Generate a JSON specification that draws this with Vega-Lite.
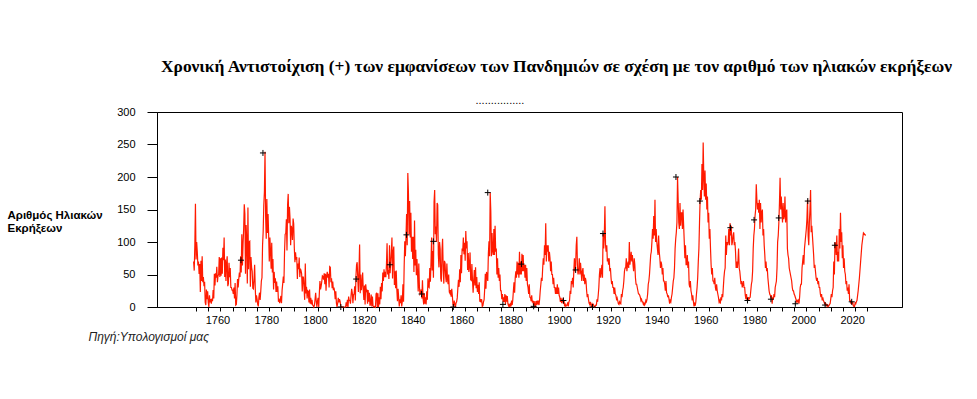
{
"$schema":"https://vega.github.io/schema/vega-lite/v6.json",
"width":745,"height":195,
"autosize":{"type":"none"},
"padding":{"left":157,"top":112,"right":75,"bottom":92},
"background":"white",
"config":{"view":{"stroke":"black","strokeWidth":1},"font":"Liberation Sans"},
"title":{"text":"Χρονική Αντιστοίχιση  (+) των εμφανίσεων των Πανδημιών σε σχέση με τον αριθμό των ηλιακών εκρήξεων","font":"Liberation Serif","fontSize":17.4,"fontWeight":"bold","color":"black","anchor":"middle","dx":27,"baseline":"alphabetic","offset":6},
"datasets":{
"sun":[
{"t":1749,"v":70},{"t":1749.25,"v":56},{"t":1749.5,"v":95},{"t":1749.75,"v":159},
{"t":1750,"v":73},{"t":1750.25,"v":100},{"t":1750.5,"v":85},{"t":1750.75,"v":64},
{"t":1751,"v":70},{"t":1751.25,"v":51},{"t":1751.5,"v":66},{"t":1751.75,"v":23},
{"t":1752,"v":71},{"t":1752.25,"v":40},{"t":1752.5,"v":78},{"t":1752.75,"v":38},
{"t":1753,"v":46},{"t":1753.25,"v":32},{"t":1753.5,"v":39},{"t":1753.75,"v":7},
{"t":1754,"v":3},{"t":1754.25,"v":27},{"t":1754.5,"v":12},{"t":1754.75,"v":24},
{"t":1755,"v":7},{"t":1755.25,"v":0},{"t":1755.5,"v":18},{"t":1755.75,"v":7},
{"t":1756,"v":12},{"t":1756.25,"v":5},{"t":1756.5,"v":13},{"t":1756.75,"v":9},
{"t":1757,"v":26},{"t":1757.25,"v":13},{"t":1757.5,"v":51},{"t":1757.75,"v":33},
{"t":1758,"v":52},{"t":1758.25,"v":45},{"t":1758.5,"v":62},{"t":1758.75,"v":38},
{"t":1759,"v":48},{"t":1759.25,"v":50},{"t":1759.5,"v":77},{"t":1759.75,"v":46},
{"t":1760,"v":75},{"t":1760.25,"v":48},{"t":1760.5,"v":76},{"t":1760.75,"v":51},
{"t":1761,"v":91},{"t":1761.25,"v":72},{"t":1761.5,"v":107},{"t":1761.75,"v":46},
{"t":1762,"v":73},{"t":1762.25,"v":40},{"t":1762.5,"v":68},{"t":1762.75,"v":78},
{"t":1763,"v":32},{"t":1763.25,"v":36},{"t":1763.5,"v":68},{"t":1763.75,"v":46},
{"t":1764,"v":60},{"t":1764.25,"v":30},{"t":1764.5,"v":30},{"t":1764.75,"v":26},
{"t":1765,"v":26},{"t":1765.25,"v":20},{"t":1765.5,"v":30},{"t":1765.75,"v":13},
{"t":1766,"v":37},{"t":1766.25,"v":3},{"t":1766.5,"v":4},{"t":1766.75,"v":19},
{"t":1767,"v":43},{"t":1767.25,"v":30},{"t":1767.5,"v":43},{"t":1767.75,"v":53},
{"t":1768,"v":46},{"t":1768.25,"v":78},{"t":1768.5,"v":53},{"t":1768.75,"v":112},
{"t":1769,"v":64},{"t":1769.25,"v":97},{"t":1769.5,"v":120},{"t":1769.75,"v":158},
{"t":1770,"v":143},{"t":1770.25,"v":51},{"t":1770.5,"v":126},{"t":1770.75,"v":103},
{"t":1771,"v":36},{"t":1771.25,"v":153},{"t":1771.5,"v":58},{"t":1771.75,"v":100},
{"t":1772,"v":101},{"t":1772.25,"v":31},{"t":1772.5,"v":77},{"t":1772.75,"v":61},
{"t":1773,"v":55},{"t":1773.25,"v":29},{"t":1773.5,"v":28},{"t":1773.75,"v":43},
{"t":1774,"v":65},{"t":1774.25,"v":29},{"t":1774.5,"v":7},{"t":1774.75,"v":18},
{"t":1775,"v":12},{"t":1775.25,"v":4},{"t":1775.5,"v":1},{"t":1775.75,"v":15},
{"t":1776,"v":22},{"t":1776.25,"v":11},{"t":1776.5,"v":24},{"t":1776.75,"v":40},
{"t":1777,"v":45},{"t":1777.25,"v":96},{"t":1777.5,"v":116},{"t":1777.75,"v":157},
{"t":1778,"v":177},{"t":1778.25,"v":239},{"t":1778.5,"v":140},{"t":1778.75,"v":105},
{"t":1779,"v":166},{"t":1779.25,"v":114},{"t":1779.5,"v":143},{"t":1779.75,"v":110},
{"t":1780,"v":70},{"t":1780.25,"v":107},{"t":1780.5,"v":86},{"t":1780.75,"v":59},
{"t":1781,"v":99},{"t":1781.25,"v":53},{"t":1781.5,"v":74},{"t":1781.75,"v":27},
{"t":1782,"v":54},{"t":1782.25,"v":37},{"t":1782.5,"v":44},{"t":1782.75,"v":23},
{"t":1783,"v":39},{"t":1783.25,"v":23},{"t":1783.5,"v":32},{"t":1783.75,"v":8},
{"t":1784,"v":13},{"t":1784.25,"v":6},{"t":1784.5,"v":10},{"t":1784.75,"v":17},
{"t":1785,"v":6},{"t":1785.25,"v":26},{"t":1785.5,"v":36},{"t":1785.75,"v":47},
{"t":1786,"v":37},{"t":1786.25,"v":85},{"t":1786.5,"v":112},{"t":1786.75,"v":113},
{"t":1787,"v":135},{"t":1787.25,"v":87},{"t":1787.5,"v":157},{"t":1787.75,"v":174},
{"t":1788,"v":129},{"t":1788.25,"v":154},{"t":1788.5,"v":136},{"t":1788.75,"v":95},
{"t":1789,"v":125},{"t":1789.25,"v":120},{"t":1789.5,"v":103},{"t":1789.75,"v":136},
{"t":1790,"v":128},{"t":1790.25,"v":91},{"t":1790.5,"v":69},{"t":1790.75,"v":84},
{"t":1791,"v":73},{"t":1791.25,"v":77},{"t":1791.5,"v":43},{"t":1791.75,"v":67},
{"t":1792,"v":58},{"t":1792.25,"v":76},{"t":1792.5,"v":46},{"t":1792.75,"v":59},
{"t":1793,"v":56},{"t":1793.25,"v":51},{"t":1793.5,"v":24},{"t":1793.75,"v":47},
{"t":1794,"v":45},{"t":1794.25,"v":28},{"t":1794.5,"v":11},{"t":1794.75,"v":67},
{"t":1795,"v":21},{"t":1795.25,"v":31},{"t":1795.5,"v":13},{"t":1795.75,"v":25},
{"t":1796,"v":24},{"t":1796.25,"v":7},{"t":1796.5,"v":27},{"t":1796.75,"v":5},
{"t":1797,"v":14},{"t":1797.25,"v":4},{"t":1797.5,"v":11},{"t":1797.75,"v":3},
{"t":1798,"v":2},{"t":1798.25,"v":0},{"t":1798.5,"v":3},{"t":1798.75,"v":12},
{"t":1799,"v":22},{"t":1799.25,"v":8},{"t":1799.5,"v":0},{"t":1799.75,"v":9},
{"t":1800,"v":14},{"t":1800.25,"v":0},{"t":1800.5,"v":21},{"t":1800.75,"v":40},
{"t":1801,"v":27},{"t":1801.25,"v":32},{"t":1801.5,"v":39},{"t":1801.75,"v":48},
{"t":1802,"v":47},{"t":1802.25,"v":42},{"t":1802.5,"v":52},{"t":1802.75,"v":35},
{"t":1803,"v":51},{"t":1803.25,"v":25},{"t":1803.5,"v":48},{"t":1803.75,"v":54},
{"t":1804,"v":45},{"t":1804.25,"v":51},{"t":1804.5,"v":30},{"t":1804.75,"v":62},
{"t":1805,"v":61},{"t":1805.25,"v":38},{"t":1805.5,"v":44},{"t":1805.75,"v":29},
{"t":1806,"v":39},{"t":1806.25,"v":26},{"t":1806.5,"v":30},{"t":1806.75,"v":24},
{"t":1807,"v":12},{"t":1807.25,"v":24},{"t":1807.5,"v":6},{"t":1807.75,"v":0},
{"t":1808,"v":5},{"t":1808.25,"v":14},{"t":1808.5,"v":7},{"t":1808.75,"v":12},
{"t":1809,"v":9},{"t":1809.25,"v":2},{"t":1809.5,"v":0},{"t":1809.75,"v":0},
{"t":1810,"v":0},{"t":1810.25,"v":0},{"t":1810.5,"v":0},{"t":1810.75,"v":0},
{"t":1811,"v":0},{"t":1811.25,"v":0},{"t":1811.5,"v":7},{"t":1811.75,"v":1},
{"t":1812,"v":11},{"t":1812.25,"v":0},{"t":1812.5,"v":16},{"t":1812.75,"v":10},
{"t":1813,"v":10},{"t":1813.25,"v":5},{"t":1813.5,"v":18},{"t":1813.75,"v":28},
{"t":1814,"v":22},{"t":1814.25,"v":6},{"t":1814.5,"v":19},{"t":1814.75,"v":20},
{"t":1815,"v":32},{"t":1815.25,"v":10},{"t":1815.5,"v":47},{"t":1815.75,"v":65},
{"t":1816,"v":69},{"t":1816.25,"v":44},{"t":1816.5,"v":23},{"t":1816.75,"v":56},
{"t":1817,"v":96},{"t":1817.25,"v":21},{"t":1817.5,"v":50},{"t":1817.75,"v":26},
{"t":1818,"v":35},{"t":1818.25,"v":53},{"t":1818.5,"v":26},{"t":1818.75,"v":11},
{"t":1819,"v":33},{"t":1819.25,"v":4},{"t":1819.5,"v":35},{"t":1819.75,"v":25},
{"t":1820,"v":27},{"t":1820.25,"v":5},{"t":1820.5,"v":26},{"t":1820.75,"v":8},
{"t":1821,"v":22},{"t":1821.25,"v":2},{"t":1821.5,"v":5},{"t":1821.75,"v":19},
{"t":1822,"v":1},{"t":1822.25,"v":16},{"t":1822.5,"v":2},{"t":1822.75,"v":0},
{"t":1823,"v":0},{"t":1823.25,"v":1},{"t":1823.5,"v":0},{"t":1823.75,"v":20},
{"t":1824,"v":22},{"t":1824.25,"v":0},{"t":1824.5,"v":21},{"t":1824.75,"v":0},
{"t":1825,"v":15},{"t":1825.25,"v":4},{"t":1825.5,"v":31},{"t":1825.75,"v":12},
{"t":1826,"v":37},{"t":1826.25,"v":24},{"t":1826.5,"v":53},{"t":1826.75,"v":40},
{"t":1827,"v":58},{"t":1827.25,"v":46},{"t":1827.5,"v":54},{"t":1827.75,"v":46},
{"t":1828,"v":65},{"t":1828.25,"v":98},{"t":1828.5,"v":50},{"t":1828.75,"v":57},
{"t":1829,"v":43},{"t":1829.25,"v":95},{"t":1829.5,"v":52},{"t":1829.75,"v":68},
{"t":1830,"v":84},{"t":1830.25,"v":107},{"t":1830.5,"v":44},{"t":1830.75,"v":84},
{"t":1831,"v":93},{"t":1831.25,"v":34},{"t":1831.5,"v":55},{"t":1831.75,"v":29},
{"t":1832,"v":56},{"t":1832.25,"v":27},{"t":1832.5,"v":9},{"t":1832.75,"v":28},
{"t":1833,"v":15},{"t":1833.25,"v":1},{"t":1833.5,"v":12},{"t":1833.75,"v":6},
{"t":1834,"v":18},{"t":1834.25,"v":1},{"t":1834.5,"v":9},{"t":1834.75,"v":35},
{"t":1835,"v":8},{"t":1835.25,"v":62},{"t":1835.5,"v":101},{"t":1835.75,"v":78},
{"t":1836,"v":108},{"t":1836.25,"v":143},{"t":1836.5,"v":95},{"t":1836.75,"v":206},
{"t":1837,"v":176},{"t":1837.25,"v":112},{"t":1837.5,"v":163},{"t":1837.75,"v":107},
{"t":1838,"v":145},{"t":1838.25,"v":85},{"t":1838.5,"v":108},{"t":1838.75,"v":74},
{"t":1839,"v":108},{"t":1839.25,"v":54},{"t":1839.5,"v":133},{"t":1839.75,"v":64},
{"t":1840,"v":88},{"t":1840.25,"v":49},{"t":1840.5,"v":74},{"t":1840.75,"v":50},
{"t":1841,"v":24},{"t":1841.25,"v":67},{"t":1841.5,"v":31},{"t":1841.75,"v":20},
{"t":1842,"v":22},{"t":1842.25,"v":27},{"t":1842.5,"v":13},{"t":1842.75,"v":41},
{"t":1843,"v":13},{"t":1843.25,"v":4},{"t":1843.5,"v":21},{"t":1843.75,"v":5},
{"t":1844,"v":15},{"t":1844.25,"v":4},{"t":1844.5,"v":24},{"t":1844.75,"v":11},
{"t":1845,"v":44},{"t":1845.25,"v":31},{"t":1845.5,"v":30},{"t":1845.75,"v":60},
{"t":1846,"v":39},{"t":1846.25,"v":69},{"t":1846.5,"v":107},{"t":1846.75,"v":56},
{"t":1847,"v":86},{"t":1847.25,"v":45},{"t":1847.5,"v":161},{"t":1847.75,"v":180},
{"t":1848,"v":112},{"t":1848.25,"v":124},{"t":1848.5,"v":100},{"t":1848.75,"v":160},
{"t":1849,"v":157},{"t":1849.25,"v":81},{"t":1849.5,"v":61},{"t":1849.75,"v":100},
{"t":1850,"v":89},{"t":1850.25,"v":44},{"t":1850.5,"v":39},{"t":1850.75,"v":86},
{"t":1851,"v":105},{"t":1851.25,"v":57},{"t":1851.5,"v":36},{"t":1851.75,"v":71},
{"t":1852,"v":68},{"t":1852.25,"v":47},{"t":1852.5,"v":38},{"t":1852.75,"v":67},
{"t":1853,"v":43},{"t":1853.25,"v":35},{"t":1853.5,"v":50},{"t":1853.75,"v":23},
{"t":1854,"v":21},{"t":1854.25,"v":26},{"t":1854.5,"v":16},{"t":1854.75,"v":28},
{"t":1855,"v":17},{"t":1855.25,"v":4},{"t":1855.5,"v":0},{"t":1855.75,"v":10},
{"t":1856,"v":5},{"t":1856.25,"v":0},{"t":1856.5,"v":6},{"t":1856.75,"v":8},
{"t":1857,"v":14},{"t":1857.25,"v":29},{"t":1857.5,"v":42},{"t":1857.75,"v":31},
{"t":1858,"v":58},{"t":1858.25,"v":38},{"t":1858.5,"v":80},{"t":1858.75,"v":52},
{"t":1859,"v":90},{"t":1859.25,"v":86},{"t":1859.5,"v":107},{"t":1859.75,"v":81},
{"t":1860,"v":99},{"t":1860.25,"v":71},{"t":1860.5,"v":117},{"t":1860.75,"v":90},
{"t":1861,"v":101},{"t":1861.25,"v":57},{"t":1861.5,"v":83},{"t":1861.75,"v":54},
{"t":1862,"v":64},{"t":1862.25,"v":84},{"t":1862.5,"v":42},{"t":1862.75,"v":41},
{"t":1863,"v":66},{"t":1863.25,"v":41},{"t":1863.5,"v":22},{"t":1863.75,"v":41},
{"t":1864,"v":57},{"t":1864.25,"v":33},{"t":1864.5,"v":61},{"t":1864.75,"v":29},
{"t":1865,"v":46},{"t":1865.25,"v":23},{"t":1865.5,"v":34},{"t":1865.75,"v":20},
{"t":1866,"v":38},{"t":1866.25,"v":8},{"t":1866.5,"v":12},{"t":1866.75,"v":7},
{"t":1867,"v":12},{"t":1867.25,"v":1},{"t":1867.5,"v":2},{"t":1867.75,"v":8},
{"t":1868,"v":11},{"t":1868.25,"v":28},{"t":1868.5,"v":51},{"t":1868.75,"v":28},
{"t":1869,"v":54},{"t":1869.25,"v":46},{"t":1869.5,"v":40},{"t":1869.75,"v":82},
{"t":1870,"v":101},{"t":1870.25,"v":78},{"t":1870.5,"v":176},{"t":1870.75,"v":147},
{"t":1871,"v":78},{"t":1871.25,"v":114},{"t":1871.5,"v":86},{"t":1871.75,"v":80},
{"t":1872,"v":120},{"t":1872.25,"v":80},{"t":1872.5,"v":125},{"t":1872.75,"v":85},
{"t":1873,"v":90},{"t":1873.25,"v":50},{"t":1873.5,"v":75},{"t":1873.75,"v":45},
{"t":1874,"v":60},{"t":1874.25,"v":40},{"t":1874.5,"v":50},{"t":1874.75,"v":25},
{"t":1875,"v":25},{"t":1875.25,"v":12},{"t":1875.5,"v":20},{"t":1875.75,"v":8},
{"t":1876,"v":15},{"t":1876.25,"v":8},{"t":1876.5,"v":20},{"t":1876.75,"v":4},
{"t":1877,"v":18},{"t":1877.25,"v":8},{"t":1877.5,"v":17},{"t":1877.75,"v":5},
{"t":1878,"v":2},{"t":1878.25,"v":5},{"t":1878.5,"v":0},{"t":1878.75,"v":4},
{"t":1879,"v":1},{"t":1879.25,"v":10},{"t":1879.5,"v":3},{"t":1879.75,"v":11},
{"t":1880,"v":25},{"t":1880.25,"v":38},{"t":1880.5,"v":22},{"t":1880.75,"v":45},
{"t":1881,"v":55},{"t":1881.25,"v":45},{"t":1881.5,"v":70},{"t":1881.75,"v":50},
{"t":1882,"v":68},{"t":1882.25,"v":45},{"t":1882.5,"v":85},{"t":1882.75,"v":50},
{"t":1883,"v":70},{"t":1883.25,"v":50},{"t":1883.5,"v":82},{"t":1883.75,"v":55},
{"t":1884,"v":80},{"t":1884.25,"v":55},{"t":1884.5,"v":65},{"t":1884.75,"v":45},
{"t":1885,"v":65},{"t":1885.25,"v":40},{"t":1885.5,"v":60},{"t":1885.75,"v":35},
{"t":1886,"v":30},{"t":1886.25,"v":20},{"t":1886.5,"v":35},{"t":1886.75,"v":15},
{"t":1887,"v":15},{"t":1887.25,"v":9},{"t":1887.5,"v":18},{"t":1887.75,"v":7},
{"t":1888,"v":10},{"t":1888.25,"v":3},{"t":1888.5,"v":9},{"t":1888.75,"v":2},
{"t":1889,"v":1},{"t":1889.25,"v":9},{"t":1889.5,"v":3},{"t":1889.75,"v":10},
{"t":1890,"v":4},{"t":1890.25,"v":10},{"t":1890.5,"v":3},{"t":1890.75,"v":12},
{"t":1891,"v":25},{"t":1891.25,"v":35},{"t":1891.5,"v":45},{"t":1891.75,"v":40},
{"t":1892,"v":60},{"t":1892.25,"v":75},{"t":1892.5,"v":65},{"t":1892.75,"v":95},
{"t":1893,"v":80},{"t":1893.25,"v":129},{"t":1893.5,"v":70},{"t":1893.75,"v":95},
{"t":1894,"v":85},{"t":1894.25,"v":95},{"t":1894.5,"v":70},{"t":1894.75,"v":85},
{"t":1895,"v":75},{"t":1895.25,"v":55},{"t":1895.5,"v":70},{"t":1895.75,"v":50},
{"t":1896,"v":50},{"t":1896.25,"v":35},{"t":1896.5,"v":45},{"t":1896.75,"v":30},
{"t":1897,"v":30},{"t":1897.25,"v":20},{"t":1897.5,"v":30},{"t":1897.75,"v":20},
{"t":1898,"v":35},{"t":1898.25,"v":20},{"t":1898.5,"v":30},{"t":1898.75,"v":18},
{"t":1899,"v":15},{"t":1899.25,"v":8},{"t":1899.5,"v":14},{"t":1899.75,"v":6},
{"t":1900,"v":10},{"t":1900.25,"v":12},{"t":1900.5,"v":5},{"t":1900.75,"v":9},
{"t":1901,"v":1},{"t":1901.25,"v":4},{"t":1901.5,"v":1},{"t":1901.75,"v":3},
{"t":1902,"v":3},{"t":1902.25,"v":7},{"t":1902.5,"v":1},{"t":1902.75,"v":8},
{"t":1903,"v":10},{"t":1903.25,"v":25},{"t":1903.5,"v":20},{"t":1903.75,"v":40},
{"t":1904,"v":35},{"t":1904.25,"v":45},{"t":1904.5,"v":30},{"t":1904.75,"v":55},
{"t":1905,"v":75},{"t":1905.25,"v":55},{"t":1905.5,"v":65},{"t":1905.75,"v":95},
{"t":1906,"v":108},{"t":1906.25,"v":60},{"t":1906.5,"v":50},{"t":1906.75,"v":58},
{"t":1907,"v":75},{"t":1907.25,"v":50},{"t":1907.5,"v":68},{"t":1907.75,"v":55},
{"t":1908,"v":40},{"t":1908.25,"v":55},{"t":1908.5,"v":60},{"t":1908.75,"v":40},
{"t":1909,"v":50},{"t":1909.25,"v":35},{"t":1909.5,"v":45},{"t":1909.75,"v":40},
{"t":1910,"v":25},{"t":1910.25,"v":15},{"t":1910.5,"v":20},{"t":1910.75,"v":12},
{"t":1911,"v":6},{"t":1911.25,"v":4},{"t":1911.5,"v":8},{"t":1911.75,"v":3},
{"t":1912,"v":1},{"t":1912.25,"v":5},{"t":1912.5,"v":3},{"t":1912.75,"v":4},
{"t":1913,"v":2},{"t":1913.25,"v":0},{"t":1913.5,"v":1},{"t":1913.75,"v":3},
{"t":1914,"v":3},{"t":1914.25,"v":12},{"t":1914.5,"v":8},{"t":1914.75,"v":18},
{"t":1915,"v":30},{"t":1915.25,"v":50},{"t":1915.5,"v":60},{"t":1915.75,"v":45},
{"t":1916,"v":55},{"t":1916.25,"v":65},{"t":1916.5,"v":45},{"t":1916.75,"v":113},
{"t":1917,"v":90},{"t":1917.25,"v":110},{"t":1917.5,"v":155},{"t":1917.75,"v":95},
{"t":1918,"v":85},{"t":1918.25,"v":95},{"t":1918.5,"v":70},{"t":1918.75,"v":75},
{"t":1919,"v":65},{"t":1919.25,"v":75},{"t":1919.5,"v":55},{"t":1919.75,"v":60},
{"t":1920,"v":45},{"t":1920.25,"v":35},{"t":1920.5,"v":40},{"t":1920.75,"v":30},
{"t":1921,"v":30},{"t":1921.25,"v":20},{"t":1921.5,"v":30},{"t":1921.75,"v":20},
{"t":1922,"v":18},{"t":1922.25,"v":12},{"t":1922.5,"v":14},{"t":1922.75,"v":10},
{"t":1923,"v":5},{"t":1923.25,"v":4},{"t":1923.5,"v":8},{"t":1923.75,"v":6},
{"t":1924,"v":5},{"t":1924.25,"v":20},{"t":1924.5,"v":15},{"t":1924.75,"v":25},
{"t":1925,"v":30},{"t":1925.25,"v":40},{"t":1925.5,"v":55},{"t":1925.75,"v":60},
{"t":1926,"v":60},{"t":1926.25,"v":75},{"t":1926.5,"v":55},{"t":1926.75,"v":65},
{"t":1927,"v":70},{"t":1927.25,"v":60},{"t":1927.5,"v":100},{"t":1927.75,"v":65},
{"t":1928,"v":75},{"t":1928.25,"v":85},{"t":1928.5,"v":70},{"t":1928.75,"v":80},
{"t":1929,"v":65},{"t":1929.25,"v":55},{"t":1929.5,"v":75},{"t":1929.75,"v":65},
{"t":1930,"v":45},{"t":1930.25,"v":35},{"t":1930.5,"v":35},{"t":1930.75,"v":30},
{"t":1931,"v":25},{"t":1931.25,"v":20},{"t":1931.5,"v":20},{"t":1931.75,"v":18},
{"t":1932,"v":15},{"t":1932.25,"v":10},{"t":1932.5,"v":12},{"t":1932.75,"v":8},
{"t":1933,"v":8},{"t":1933.25,"v":4},{"t":1933.5,"v":6},{"t":1933.75,"v":3},
{"t":1934,"v":5},{"t":1934.25,"v":10},{"t":1934.5,"v":8},{"t":1934.75,"v":12},
{"t":1935,"v":20},{"t":1935.25,"v":35},{"t":1935.5,"v":40},{"t":1935.75,"v":50},
{"t":1936,"v":65},{"t":1936.25,"v":80},{"t":1936.5,"v":85},{"t":1936.75,"v":100},
{"t":1937,"v":120},{"t":1937.25,"v":105},{"t":1937.5,"v":140},{"t":1937.75,"v":110},
{"t":1938,"v":165},{"t":1938.25,"v":100},{"t":1938.5,"v":120},{"t":1938.75,"v":100},
{"t":1939,"v":90},{"t":1939.25,"v":80},{"t":1939.5,"v":110},{"t":1939.75,"v":85},
{"t":1940,"v":75},{"t":1940.25,"v":60},{"t":1940.5,"v":70},{"t":1940.75,"v":65},
{"t":1941,"v":50},{"t":1941.25,"v":60},{"t":1941.5,"v":40},{"t":1941.75,"v":40},
{"t":1942,"v":35},{"t":1942.25,"v":25},{"t":1942.5,"v":40},{"t":1942.75,"v":22},
{"t":1943,"v":20},{"t":1943.25,"v":15},{"t":1943.5,"v":18},{"t":1943.75,"v":12},
{"t":1944,"v":5},{"t":1944.25,"v":10},{"t":1944.5,"v":8},{"t":1944.75,"v":15},
{"t":1945,"v":20},{"t":1945.25,"v":30},{"t":1945.5,"v":40},{"t":1945.75,"v":45},
{"t":1946,"v":60},{"t":1946.25,"v":90},{"t":1946.5,"v":105},{"t":1946.75,"v":115},
{"t":1947,"v":130},{"t":1947.25,"v":200},{"t":1947.5,"v":165},{"t":1947.75,"v":130},
{"t":1948,"v":120},{"t":1948.25,"v":160},{"t":1948.5,"v":125},{"t":1948.75,"v":145},
{"t":1949,"v":145},{"t":1949.25,"v":120},{"t":1949.5,"v":150},{"t":1949.75,"v":125},
{"t":1950,"v":100},{"t":1950.25,"v":75},{"t":1950.5,"v":95},{"t":1950.75,"v":65},
{"t":1951,"v":65},{"t":1951.25,"v":80},{"t":1951.5,"v":60},{"t":1951.75,"v":70},
{"t":1952,"v":35},{"t":1952.25,"v":30},{"t":1952.5,"v":40},{"t":1952.75,"v":25},
{"t":1953,"v":20},{"t":1953.25,"v":10},{"t":1953.5,"v":18},{"t":1953.75,"v":8},
{"t":1954,"v":1},{"t":1954.25,"v":5},{"t":1954.5,"v":2},{"t":1954.75,"v":8},
{"t":1955,"v":20},{"t":1955.25,"v":30},{"t":1955.5,"v":45},{"t":1955.75,"v":70},
{"t":1956,"v":90},{"t":1956.25,"v":130},{"t":1956.5,"v":165},{"t":1956.75,"v":180},
{"t":1957,"v":165},{"t":1957.25,"v":220},{"t":1957.5,"v":180},{"t":1957.75,"v":253},
{"t":1958,"v":200},{"t":1958.25,"v":170},{"t":1958.5,"v":210},{"t":1958.75,"v":165},
{"t":1959,"v":190},{"t":1959.25,"v":150},{"t":1959.5,"v":170},{"t":1959.75,"v":130},
{"t":1960,"v":145},{"t":1960.25,"v":105},{"t":1960.5,"v":120},{"t":1960.75,"v":90},
{"t":1961,"v":65},{"t":1961.25,"v":50},{"t":1961.5,"v":60},{"t":1961.75,"v":40},
{"t":1962,"v":40},{"t":1962.25,"v":35},{"t":1962.5,"v":45},{"t":1962.75,"v":30},
{"t":1963,"v":25},{"t":1963.25,"v":35},{"t":1963.5,"v":25},{"t":1963.75,"v":20},
{"t":1964,"v":15},{"t":1964.25,"v":8},{"t":1964.5,"v":10},{"t":1964.75,"v":5},
{"t":1965,"v":15},{"t":1965.25,"v":10},{"t":1965.5,"v":20},{"t":1965.75,"v":15},
{"t":1966,"v":30},{"t":1966.25,"v":45},{"t":1966.5,"v":55},{"t":1966.75,"v":60},
{"t":1967,"v":110},{"t":1967.25,"v":80},{"t":1967.5,"v":100},{"t":1967.75,"v":95},
{"t":1968,"v":100},{"t":1968.25,"v":120},{"t":1968.5,"v":95},{"t":1968.75,"v":129},
{"t":1969,"v":110},{"t":1969.25,"v":125},{"t":1969.5,"v":95},{"t":1969.75,"v":100},
{"t":1970,"v":110},{"t":1970.25,"v":115},{"t":1970.5,"v":95},{"t":1970.75,"v":100},
{"t":1971,"v":85},{"t":1971.25,"v":60},{"t":1971.5,"v":70},{"t":1971.75,"v":60},
{"t":1972,"v":70},{"t":1972.25,"v":90},{"t":1972.5,"v":60},{"t":1972.75,"v":55},
{"t":1973,"v":45},{"t":1973.25,"v":35},{"t":1973.5,"v":40},{"t":1973.75,"v":30},
{"t":1974,"v":35},{"t":1974.25,"v":40},{"t":1974.5,"v":30},{"t":1974.75,"v":30},
{"t":1975,"v":18},{"t":1975.25,"v":12},{"t":1975.5,"v":20},{"t":1975.75,"v":10},
{"t":1976,"v":10},{"t":1976.25,"v":15},{"t":1976.5,"v":12},{"t":1976.75,"v":14},
{"t":1977,"v":15},{"t":1977.25,"v":25},{"t":1977.5,"v":35},{"t":1977.75,"v":40},
{"t":1978,"v":55},{"t":1978.25,"v":90},{"t":1978.5,"v":110},{"t":1978.75,"v":120},
{"t":1979,"v":140},{"t":1979.25,"v":150},{"t":1979.5,"v":189},{"t":1979.75,"v":165},
{"t":1980,"v":150},{"t":1980.25,"v":160},{"t":1980.5,"v":145},{"t":1980.75,"v":165},
{"t":1981,"v":120},{"t":1981.25,"v":160},{"t":1981.5,"v":130},{"t":1981.75,"v":145},
{"t":1982,"v":150},{"t":1982.25,"v":110},{"t":1982.5,"v":120},{"t":1982.75,"v":95},
{"t":1983,"v":80},{"t":1983.25,"v":60},{"t":1983.5,"v":70},{"t":1983.75,"v":55},
{"t":1984,"v":60},{"t":1984.25,"v":45},{"t":1984.5,"v":35},{"t":1984.75,"v":25},
{"t":1985,"v":20},{"t":1985.25,"v":18},{"t":1985.5,"v":15},{"t":1985.75,"v":18},
{"t":1986,"v":5},{"t":1986.25,"v":15},{"t":1986.5,"v":12},{"t":1986.75,"v":20},
{"t":1987,"v":15},{"t":1987.25,"v":30},{"t":1987.5,"v":35},{"t":1987.75,"v":40},
{"t":1988,"v":60},{"t":1988.25,"v":100},{"t":1988.5,"v":110},{"t":1988.75,"v":130},
{"t":1989,"v":160},{"t":1989.25,"v":199},{"t":1989.5,"v":150},{"t":1989.75,"v":170},
{"t":1990,"v":150},{"t":1990.25,"v":130},{"t":1990.5,"v":160},{"t":1990.75,"v":135},
{"t":1991,"v":140},{"t":1991.25,"v":170},{"t":1991.5,"v":130},{"t":1991.75,"v":145},
{"t":1992,"v":150},{"t":1992.25,"v":90},{"t":1992.5,"v":80},{"t":1992.75,"v":75},
{"t":1993,"v":60},{"t":1993.25,"v":55},{"t":1993.5,"v":50},{"t":1993.75,"v":45},
{"t":1994,"v":40},{"t":1994.25,"v":30},{"t":1994.5,"v":25},{"t":1994.75,"v":25},
{"t":1995,"v":20},{"t":1995.25,"v":18},{"t":1995.5,"v":15},{"t":1995.75,"v":12},
{"t":1996,"v":8},{"t":1996.25,"v":10},{"t":1996.5,"v":8},{"t":1996.75,"v":10},
{"t":1997,"v":5},{"t":1997.25,"v":15},{"t":1997.5,"v":30},{"t":1997.75,"v":35},
{"t":1998,"v":35},{"t":1998.25,"v":60},{"t":1998.5,"v":70},{"t":1998.75,"v":80},
{"t":1999,"v":65},{"t":1999.25,"v":90},{"t":1999.5,"v":100},{"t":1999.75,"v":110},
{"t":2000,"v":120},{"t":2000.25,"v":135},{"t":2000.5,"v":165},{"t":2000.75,"v":110},
{"t":2001,"v":95},{"t":2001.25,"v":130},{"t":2001.5,"v":150},{"t":2001.75,"v":180},
{"t":2002,"v":115},{"t":2002.25,"v":125},{"t":2002.5,"v":110},{"t":2002.75,"v":95},
{"t":2003,"v":80},{"t":2003.25,"v":60},{"t":2003.5,"v":65},{"t":2003.75,"v":55},
{"t":2004,"v":45},{"t":2004.25,"v":40},{"t":2004.5,"v":45},{"t":2004.75,"v":35},
{"t":2005,"v":40},{"t":2005.25,"v":30},{"t":2005.5,"v":30},{"t":2005.75,"v":20},
{"t":2006,"v":15},{"t":2006.25,"v":20},{"t":2006.5,"v":10},{"t":2006.75,"v":15},
{"t":2007,"v":10},{"t":2007.25,"v":8},{"t":2007.5,"v":5},{"t":2007.75,"v":6},
{"t":2008,"v":3},{"t":2008.25,"v":4},{"t":2008.5,"v":1},{"t":2008.75,"v":3},
{"t":2009,"v":1},{"t":2009.25,"v":2},{"t":2009.5,"v":4},{"t":2009.75,"v":5},
{"t":2010,"v":12},{"t":2010.25,"v":20},{"t":2010.5,"v":15},{"t":2010.75,"v":25},
{"t":2011,"v":30},{"t":2011.25,"v":70},{"t":2011.5,"v":50},{"t":2011.75,"v":100},
{"t":2012,"v":95},{"t":2012.25,"v":80},{"t":2012.5,"v":110},{"t":2012.75,"v":70},
{"t":2013,"v":85},{"t":2013.25,"v":70},{"t":2013.5,"v":120},{"t":2013.75,"v":90},
{"t":2014,"v":145},{"t":2014.25,"v":100},{"t":2014.5,"v":115},{"t":2014.75,"v":75},
{"t":2015,"v":95},{"t":2015.25,"v":60},{"t":2015.5,"v":75},{"t":2015.75,"v":55},
{"t":2016,"v":50},{"t":2016.25,"v":35},{"t":2016.5,"v":40},{"t":2016.75,"v":25},
{"t":2017,"v":30},{"t":2017.25,"v":20},{"t":2017.5,"v":35},{"t":2017.75,"v":10},
{"t":2018,"v":10},{"t":2018.25,"v":5},{"t":2018.5,"v":8},{"t":2018.75,"v":4},
{"t":2019,"v":8},{"t":2019.25,"v":2},{"t":2019.5,"v":1},{"t":2019.75,"v":1},
{"t":2020,"v":6},{"t":2020.25,"v":5},{"t":2020.5,"v":8},{"t":2020.75,"v":10},
{"t":2021.25,"v":25},{"t":2021.75,"v":45},{"t":2022.25,"v":70},{"t":2022.75,"v":95},
{"t":2023.4,"v":114},{"t":2024.3,"v":110}
],
"pand":[
{"t":1768.4,"v":72},{"t":1777.4,"v":237},{"t":1809.3,"v":0},{"t":1815.6,"v":43},
{"t":1829.4,"v":65},{"t":1836.2,"v":111},{"t":1842.4,"v":20},{"t":1847.2,"v":101},
{"t":1855.4,"v":0},{"t":1869.5,"v":176},{"t":1875.7,"v":4},{"t":1883.3,"v":66},
{"t":1888.3,"v":1},{"t":1900.5,"v":10},{"t":1905.5,"v":57},{"t":1912.4,"v":0},
{"t":1916.7,"v":113},{"t":1946.6,"v":200},{"t":1956.4,"v":163},{"t":1968.9,"v":122},
{"t":1975.9,"v":10},{"t":1978.6,"v":134},{"t":1985.5,"v":12},{"t":1988.7,"v":137},
{"t":1995.5,"v":5},{"t":2000.6,"v":163},{"t":2007.7,"v":3},{"t":2011.7,"v":95},
{"t":2018.6,"v":8}
]
},
"layer":[
{"data":{"name":"sun"},
 "mark":{"type":"line","color":"#ff1a00","strokeWidth":1.2},
 "encoding":{
  "x":{"field":"t","type":"quantitative","scale":{"domain":[1734,2039.2],"nice":false,"zero":false},
   "axis":{"values":[1750,1755,1760,1765,1770,1775,1780,1785,1790,1795,1800,1805,1810,1815,1820,1825,1830,1835,1840,1845,1850,1855,1860,1865,1870,1875,1880,1885,1890,1895,1900,1905,1910,1915,1920,1925,1930,1935,1940,1945,1950,1955,1960,1965,1970,1975,1980,1985,1990,1995,2000,2005,2010,2015,2020,2025],
    "tickCount":200,
    "labelExpr":"datum.value % 20 == 0 ? datum.label : ''","format":"d","grid":false,"tickSize":4,"tickColor":"black","domainColor":"black","labelColor":"black","labelFont":"Liberation Sans","labelFontSize":11,"labelPadding":3,"labelOffset":-3,"labelFlush":false,"labelOverlap":false,
    "title":"Πηγή:Υπολογισμοί μας","titleFont":"Liberation Sans","titleFontStyle":"italic","titleFontWeight":"normal","titleFontSize":12,"titleColor":"#222","titleAlign":"left","titleAnchor":"start","titleBaseline":"alphabetic","titleX":-69,"titleY":33}},
  "y":{"field":"v","type":"quantitative","scale":{"domain":[0,300],"nice":false},
   "axis":{"values":[0,50,100,150,200,250,300],"tickCount":50,"grid":false,"tickSize":10,"tickColor":"black","domainColor":"black","labelColor":"black","labelFont":"Liberation Sans","labelFontSize":11,"labelPadding":12,"labelFlush":false,"labelOverlap":false,
    "title":["Αριθμός Ηλιακών","Εκρήξεων"],"titleFont":"Liberation Sans","titleFontSize":11.5,"titleFontWeight":"bold","titleColor":"black","titleAngle":0,"titleAlign":"left","titleBaseline":"alphabetic","titleX":-150,"titleY":106,"titleLineHeight":13}}
 }},
{"data":{"name":"pand"},
 "mark":{"type":"point","shape":"M-1,0L1,0M0,-1L0,1","filled":false,"stroke":"black","strokeWidth":1,"size":36,"opacity":1},
 "encoding":{"x":{"field":"t","type":"quantitative"},"y":{"field":"v","type":"quantitative"}}},
{"data":{"values":[{}]},
 "mark":{"type":"text","text":"................","font":"Liberation Sans","fontSize":11,"baseline":"alphabetic","align":"center","color":"black"},
 "encoding":{"x":{"datum":1874.5,"type":"quantitative"},"y":{"datum":312,"type":"quantitative"}}}
]
}
